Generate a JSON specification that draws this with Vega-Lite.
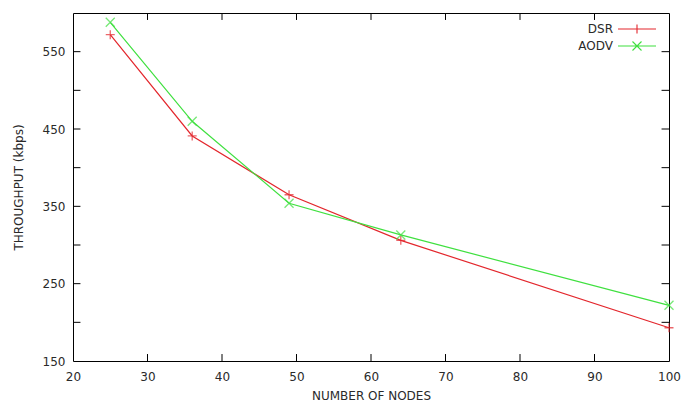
{
  "$schema": "https://vega.github.io/schema/vega-lite/v6.json",
  "width": 596,
  "height": 348,
  "autosize": {"type": "none"},
  "padding": {"left": 73, "top": 13, "right": 25, "bottom": 53},
  "background": "white",
  "config": {
    "view": {"stroke": "black", "strokeWidth": 1},
    "font": "DejaVu Sans"
  },
  "datasets": {
    "results": [
      {"nodes": 25, "throughput": 572, "protocol": "DSR"},
      {"nodes": 36, "throughput": 441, "protocol": "DSR"},
      {"nodes": 49, "throughput": 365, "protocol": "DSR"},
      {"nodes": 64, "throughput": 306, "protocol": "DSR"},
      {"nodes": 100, "throughput": 193, "protocol": "DSR"},
      {"nodes": 25, "throughput": 588, "protocol": "AODV"},
      {"nodes": 36, "throughput": 460, "protocol": "AODV"},
      {"nodes": 49, "throughput": 354, "protocol": "AODV"},
      {"nodes": 64, "throughput": 313, "protocol": "AODV"},
      {"nodes": 100, "throughput": 222, "protocol": "AODV"}
    ],
    "xticks": [{"v": 30}, {"v": 40}, {"v": 50}, {"v": 60}, {"v": 70}, {"v": 80}, {"v": 90}],
    "yticks": [{"v": 200}, {"v": 250}, {"v": 300}, {"v": 350}, {"v": 400}, {"v": 450}, {"v": 500}, {"v": 550}]
  },
  "layer": [
    {"data": {"name": "results"}, "mark": {"type": "line", "strokeWidth": 1.2},
      "encoding": {
        "x": {"field": "nodes", "type": "quantitative", "scale": {"domain": [20, 100], "nice": false, "zero": false},
          "axis": {"title": "NUMBER OF NODES", "values": [20,30,40,50,60,70,80,90,100],
            "domain": false, "grid": false, "ticks": false, "labelOverlap": false, "labelFlush": false,
            "labelFont": "DejaVu Sans", "labelFontSize": 12, "labelColor": "#2a2a2a", "labelPadding": 10,
            "titleFont": "DejaVu Sans", "titleFontSize": 12, "titleFontWeight": "normal", "titleColor": "#2a2a2a", "titlePadding": 8}},
        "y": {"field": "throughput", "type": "quantitative", "scale": {"domain": [150, 600], "nice": false, "zero": false},
          "axis": {"title": "THROUGHPUT (kbps)", "values": [150,200,250,300,350,400,450,500,550,600],
            "domain": false, "grid": false, "ticks": false, "labelOverlap": false, "labelFlush": false,
            "labelFont": "DejaVu Sans", "labelFontSize": 12, "labelColor": "#2a2a2a", "labelPadding": 8,
            "titleFont": "DejaVu Sans", "titleFontSize": 12, "titleFontWeight": "normal", "titleColor": "#2a2a2a", "titlePadding": 17}},
        "color": {"field": "protocol", "type": "nominal",
          "scale": {"domain": ["DSR", "AODV"], "range": ["#e3262c", "#3fe03f"]},
          "legend": {
            "title": null, "orient": "none", "legendX": 554.5, "legendY": 6.5,
            "padding": 0, "rowPadding": 0,
            "symbolSize": 289, "symbolStrokeWidth": 1.1, "symbolFillColor": "transparent",
            "symbolType": "M-2.24,0L2.24,0",
            "labelAlign": "right", "labelOffset": -33.5, "labelFontSize": 12, "labelFont": "DejaVu Sans", "labelColor": "#2a2a2a",
            "encode": {"symbols": {"update": {
              "shape": {"signal": "datum.value === 'DSR' ? 'M-2.24,0L2.24,0M0,-0.53L0,0.53' : 'M-2.24,0L2.24,0M-0.53,-0.53L0.53,0.53M-0.53,0.53L0.53,-0.53'"}
            }}}
          }}}},
    {"data": {"name": "xticks"}, "mark": {"type": "rule", "color": "black", "strokeWidth": 1},
      "encoding": {"x": {"field": "v", "type": "quantitative"}, "y": {"datum": 150, "type": "quantitative"}, "y2": {"datum": 159}}},
    {"data": {"name": "xticks"}, "mark": {"type": "rule", "color": "black", "strokeWidth": 1},
      "encoding": {"x": {"field": "v", "type": "quantitative"}, "y": {"datum": 600, "type": "quantitative"}, "y2": {"datum": 591}}},
    {"data": {"name": "yticks"}, "mark": {"type": "rule", "color": "black", "strokeWidth": 1},
      "encoding": {"y": {"field": "v", "type": "quantitative"}, "x": {"datum": 20, "type": "quantitative"}, "x2": {"datum": 21.0}}},
    {"data": {"name": "yticks"}, "mark": {"type": "rule", "color": "black", "strokeWidth": 1},
      "encoding": {"y": {"field": "v", "type": "quantitative"}, "x": {"datum": 100, "type": "quantitative"}, "x2": {"datum": 99.0}}},
    {"data": {"name": "results"}, "transform": [{"filter": "datum.protocol === 'DSR'"}],
      "mark": {"type": "point", "filled": false, "size": 81, "strokeWidth": 1.3, "shape": "M-1,0L1,0M0,-1L0,1", "color": "#e3262c"},
      "encoding": {"x": {"field": "nodes", "type": "quantitative"}, "y": {"field": "throughput", "type": "quantitative"}}},
    {"data": {"name": "results"}, "transform": [{"filter": "datum.protocol === 'AODV'"}],
      "mark": {"type": "point", "filled": false, "size": 81, "strokeWidth": 1.3, "shape": "M-1,-1L1,1M-1,1L1,-1", "color": "#3fe03f"},
      "encoding": {"x": {"field": "nodes", "type": "quantitative"}, "y": {"field": "throughput", "type": "quantitative"}}}
  ]
}
